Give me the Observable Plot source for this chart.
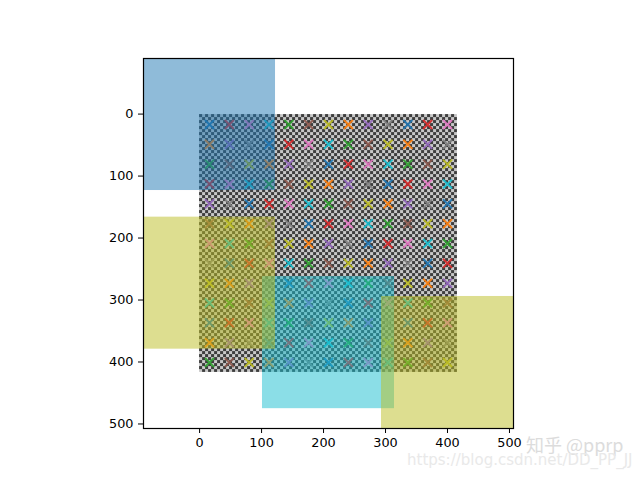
<!DOCTYPE html>
<html>
<head>
<meta charset="utf-8">
<style>
html,body{margin:0;padding:0;background:#fff}
svg{display:block}
</style>
<script src="https://cdn.jsdelivr.net/npm/d3@7"></script>
<script src="https://cdn.jsdelivr.net/npm/@observablehq/plot@0.6"></script>
</head>
<body>
<div id="chart"></div>
<script>
// axis
const xDomain = [-90.5, 506.5];
const yDomain = [506.5, -90.5];
const tickValues = [0, 100, 200, 300, 400, 500];

// image and grid
const imageSize = 416;
const checkSize = 4.8405;
const checkDark = "#3e3e3e";
const checkLight = "#c8c8c8";
const gridCentres = [16, 48, 80, 112, 144, 176, 208, 240, 272, 304, 336, 368, 400];

// marker colours
const tab10 = ["#1f77b4", "#ff7f0e", "#2ca02c", "#d62728", "#9467bd", "#8c564b", "#e377c2", "#7f7f7f", "#bcbd22", "#17becf"];
const markerColourRows = [
  [0, 3, 6, 9, 2, 5, 8, 1, 4, 7, 0, 3, 6],
  [1, 4, 7, 0, 3, 6, 9, 2, 5, 8, 1, 4, 7],
  [2, 5, 8, 1, 4, 7, 0, 3, 6, 9, 2, 5, 8],
  [3, 6, 9, 2, 5, 8, 1, 4, 7, 0, 3, 6, 9],
  [4, 7, 0, 3, 6, 9, 2, 5, 8, 1, 4, 7, 0],
  [5, 8, 1, 4, 7, 0, 3, 6, 9, 2, 5, 8, 1],
  [6, 9, 2, 5, 8, 1, 4, 7, 0, 3, 6, 9, 2],
  [7, 0, 3, 6, 9, 2, 5, 8, 1, 4, 7, 0, 3],
  [8, 1, 4, 7, 0, 3, 6, 9, 2, 5, 8, 1, 4],
  [9, 2, 5, 8, 1, 4, 7, 0, 3, 6, 9, 2, 5],
  [0, 3, 6, 9, 2, 5, 8, 1, 4, 7, 0, 3, 6],
  [1, 4, 7, 0, 3, 6, 9, 2, 5, 8, 1, 4, 7],
  [2, 5, 8, 1, 4, 7, 0, 3, 6, 9, 2, 5, 8]
];

// anchor boxes, in drawing order
const boxX1 = [-90.5, 101.5, -90.5, 293.5];
const boxX2 = [122.5, 314.5, 122.5, 506.5];
const boxY1 = [-90.5, 261.5, 165.5, 293.5];
const boxY2 = [122.5, 474.5, 378.5, 506.5];
const boxColours = ["#1f77b4", "#17becf", "#bcbd22", "#bcbd22"];

// watermark
const watermarkCn = "知乎 @pprp";
const watermarkUrl = "https://blog.csdn.net/DD_PP_JJ";

// tables for the marks
const checkEdges = d3.range(0, imageSize, checkSize);
const darkChecks = checkEdges.flatMap((y, j) =>
  checkEdges.filter((x, i) => (i + j) % 2 === 0).map(x => ({
    x1: x, x2: Math.min(x + checkSize, imageSize),
    y1: y, y2: Math.min(y + checkSize, imageSize)
  }))
);
const markers = gridCentres.flatMap((y, r) =>
  gridCentres.map((x, c) => ({x, y, colour: tab10[markerColourRows[r][c]]}))
);
const boxes = boxColours.map((colour, i) => ({
  x1: boxX1[i], x2: boxX2[i], y1: boxY1[i], y2: boxY2[i], colour
}));

const plot = Plot.plot({
  width: 640,
  height: 480,
  marginLeft: 143,
  marginRight: 127,
  marginTop: 58,
  marginBottom: 52,
  style: {fontFamily: "'DejaVu Sans', sans-serif", fontSize: "13px", background: "#fff", color: "#000"},
  x: {domain: xDomain},
  y: {domain: yDomain},
  marks: [
    Plot.rect([{x1: 0, x2: imageSize, y1: 0, y2: imageSize}], {x1: "x1", x2: "x2", y1: "y1", y2: "y2", fill: checkLight}),
    Plot.rect(darkChecks, {x1: "x1", x2: "x2", y1: "y1", y2: "y2", fill: checkDark}),
    Plot.dot(markers, {x: "x", y: "y", stroke: "colour", symbol: "times", r: 4.2, strokeWidth: 2, strokeOpacity: 0.9}),
    Plot.rect(boxes, {x1: "x1", x2: "x2", y1: "y1", y2: "y2", fill: "colour", fillOpacity: 0.5, clip: true}),
    Plot.axisX({ticks: tickValues, tickSize: 5, tickPadding: 4, fontSize: 12.8, label: null, stroke: "#000", fill: "#000", anchor: "bottom"}),
    Plot.axisY({ticks: tickValues, tickSize: 5, tickPadding: 5, fontSize: 12.8, label: null, stroke: "#000", fill: "#000", anchor: "left", dy: -0.5}),
    Plot.frame({stroke: "#000", strokeWidth: 1.2}),
    Plot.text([watermarkCn], {frameAnchor: "bottom-right", dx: 110, dy: 23, fontSize: 18, fill: "#dcdcdc", fontFamily: "'Noto Sans CJK SC', sans-serif", clip: false}),
    Plot.text([watermarkUrl], {frameAnchor: "bottom-right", dx: 119, dy: 36, fontSize: 15, fill: "#e9e9e9", fontFamily: "'DejaVu Sans', sans-serif", clip: false})
  ]
});
document.getElementById("chart").append(plot);
</script>
</body>
</html>
